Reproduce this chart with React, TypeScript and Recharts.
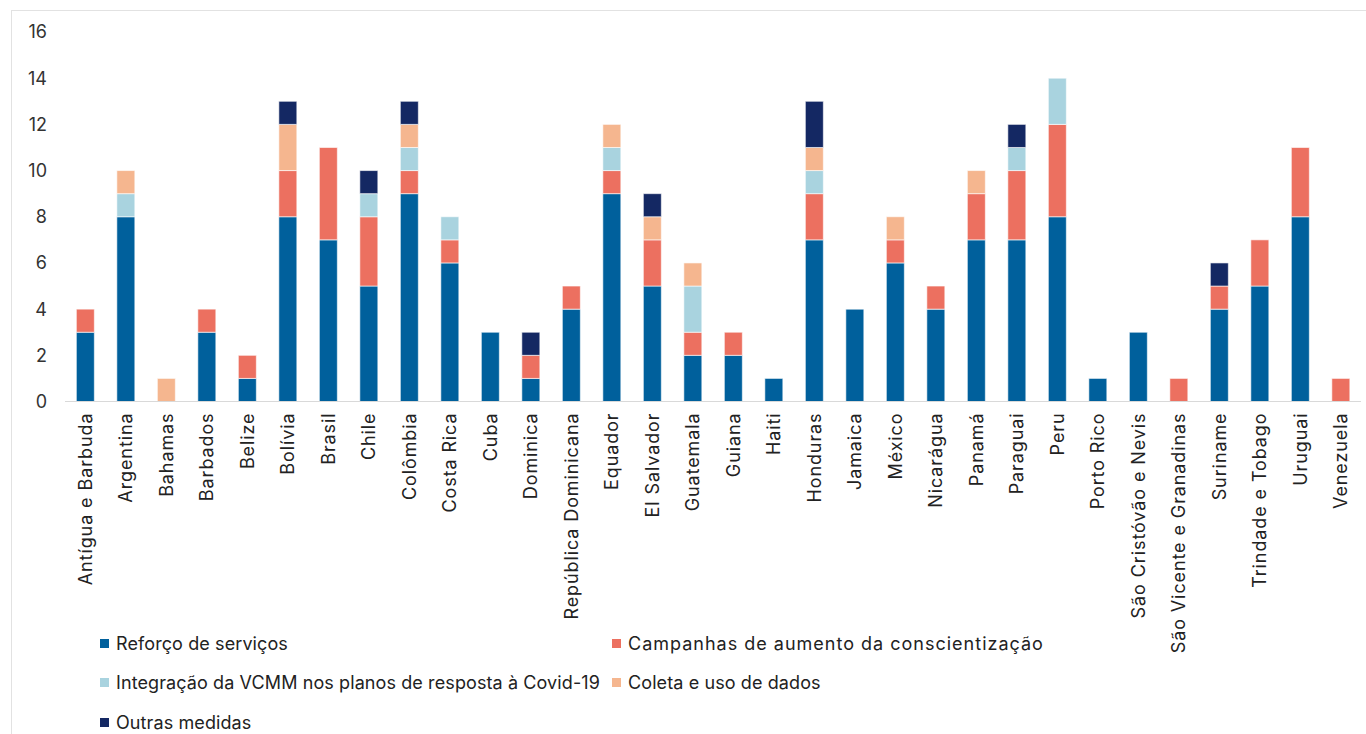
import { Bar, BarChart, Legend, XAxis, YAxis } from 'recharts';

const countries = [
  'Antígua e Barbuda', 'Argentina', 'Bahamas', 'Barbados', 'Belize', 'Bolívia', 'Brasil', 'Chile',
  'Colômbia', 'Costa Rica', 'Cuba', 'Dominica', 'República Dominicana', 'Equador', 'El Salvador',
  'Guatemala', 'Guiana', 'Haiti', 'Honduras', 'Jamaica', 'México', 'Nicarágua', 'Panamá', 'Paraguai',
  'Peru', 'Porto Rico', 'São Cristóvão e Nevis', 'São Vicente e Granadinas', 'Suriname',
  'Trindade e Tobago', 'Uruguai', 'Venezuela',
];

const reforco = [3, 8, 0, 3, 1, 8, 7, 5, 9, 6, 3, 1, 4, 9, 5, 2, 2, 1, 7, 4, 6, 4, 7, 7, 8, 1, 3, 0, 4, 5, 8, 0];
const campanhas = [1, 0, 0, 1, 1, 2, 4, 3, 1, 1, 0, 1, 1, 1, 2, 1, 1, 0, 2, 0, 1, 1, 2, 3, 4, 0, 0, 1, 1, 2, 3, 1];
const integracao = [0, 1, 0, 0, 0, 0, 0, 1, 1, 1, 0, 0, 0, 1, 0, 2, 0, 0, 1, 0, 0, 0, 0, 1, 2, 0, 0, 0, 0, 0, 0, 0];
const coleta = [0, 1, 1, 0, 0, 2, 0, 0, 1, 0, 0, 0, 0, 1, 1, 1, 0, 0, 1, 0, 1, 0, 1, 0, 0, 0, 0, 0, 0, 0, 0, 0];
const outras = [0, 0, 0, 0, 0, 1, 0, 1, 1, 0, 0, 1, 0, 0, 1, 0, 0, 0, 2, 0, 0, 0, 0, 1, 0, 0, 0, 0, 1, 0, 0, 0];

const yTicks = [0, 2, 4, 6, 8, 10, 12, 14, 16];

const series = [
  { key: 'reforco', name: 'Reforço de serviços', color: '#00609C' },
  { key: 'campanhas', name: 'Campanhas de aumento da conscientização', color: '#EC7060' },
  { key: 'integracao', name: 'Integração da VCMM nos planos de resposta à Covid-19', color: '#A9D3DF' },
  { key: 'coleta', name: 'Coleta e uso de dados', color: '#F5B68F' },
  { key: 'outras', name: 'Outras medidas', color: '#142863' },
];

const data = countries.map((name, i) => ({
  name,
  reforco: reforco[i],
  campanhas: campanhas[i],
  integracao: integracao[i],
  coleta: coleta[i],
  outras: outras[i],
}));

const FONT = 'Inter, "Noto Sans", sans-serif';

function CountryTick({ x, y, payload }: any) {
  return (
    <text
      transform={`translate(${x},${y + 3}) rotate(-90)`}
      textAnchor="end"
      dominantBaseline="central"
      fill="#222"
      fontSize={18}
      letterSpacing={0.9}
      fontFamily={FONT}
    >
      {payload.value}
    </text>
  );
}

function LegendBox() {
  return (
    <div
      style={{
        display: 'grid',
        gridTemplateColumns: '512px auto',
        paddingLeft: 88,
        fontFamily: FONT,
        fontSize: 18,
        color: '#222',
      }}
    >
      {series.map((s) => (
        <div key={s.key} style={{ height: 39.5, display: 'flex', alignItems: 'center' }}>
          <span style={{ width: 9, height: 9, background: s.color, marginRight: 7, display: 'inline-block' }} />
          <span style={{ letterSpacing: s.key === 'campanhas' ? 1 : 0.1 }}>{s.name}</span>
        </div>
      ))}
    </div>
  );
}

export default function App() {
  return (
    <div
      style={{
        position: 'absolute',
        left: 11,
        top: 10,
        width: 1370,
        height: 740,
        border: '1px solid #e2e2e2',
        background: '#fff',
      }}
    >
      <BarChart
        width={1354}
        height={731}
        data={data}
        margin={{ top: 21, right: 5, bottom: 0, left: 0 }}
        barCategoryGap="28%"
      >
        <XAxis
          dataKey="name"
          interval={0}
          height={222}
          tick={<CountryTick />}
          tickLine={false}
          axisLine={{ stroke: '#d9d9d9' }}
        />
        <YAxis
          width={53}
          domain={[0, 16]}
          ticks={yTicks}
          axisLine={false}
          tickLine={false}
          tickMargin={12}
          tick={{ fill: '#333', fontSize: 18, fontFamily: FONT }}
        />
        <Legend verticalAlign="bottom" content={<LegendBox />} />
        {series.map((s) => (
          <Bar
            key={s.key}
            dataKey={s.key}
            name={s.name}
            stackId="a"
            fill={s.color}
            stroke="rgba(255,255,255,0.6)"
            strokeWidth={1}
            isAnimationActive={false}
          />
        ))}
      </BarChart>
    </div>
  );
}
